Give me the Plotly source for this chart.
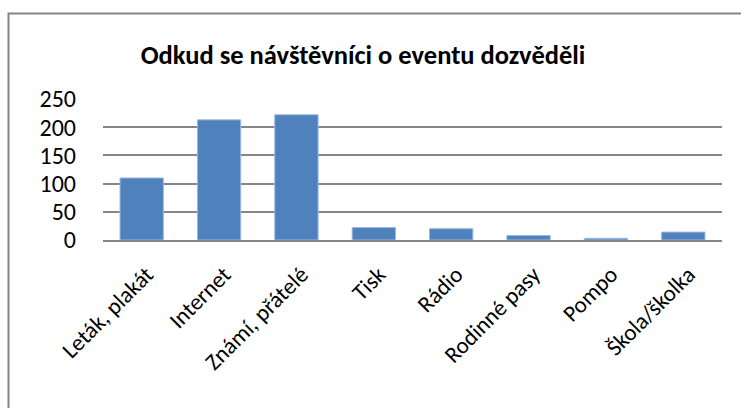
import plotly.graph_objects as go

categories = ["Leták, plakát", "Internet", "Známí, přátelé", "Tisk", "Rádio",
              "Rodinné pasy", "Pompo", "Škola/školka"]
values = [110, 213, 222, 22, 20, 8, 3, 14]
y_ticks = [0, 50, 100, 150, 200, 250]
title_text = "Odkud se návštěvníci o eventu dozvěděli"

FONT = "Carlito, 'Liberation Sans Narrow', 'Noto Sans', sans-serif"

W, H = 741, 408
L, R, T, B = 103, 19, 99, 168
pw, ph = W - L - R, H - T - B

def px_x(x):
    return (x - L) / pw

def px_y(y):
    return 1 - (y - T) / ph

fig = go.Figure(go.Bar(
    x=categories, y=values,
    marker=dict(color="#4F81BD", line=dict(color="#9DB9E0", width=1)),
    width=0.56,
))

fig.update_layout(
    width=W, height=H,
    margin=dict(l=L, r=R, t=T, b=B),
    paper_bgcolor="white", plot_bgcolor="white",
    showlegend=False,
    font=dict(family=FONT, color="black"),
    title=dict(text="<b>" + title_text + "</b>", x=363 / W, xanchor="center",
               y=1 - 55 / H, yanchor="middle", font=dict(size=26.5, family=FONT)),
    shapes=[dict(type="rect", xref="paper", yref="paper",
                 x0=px_x(8.5), x1=px_x(W + 10), y0=px_y(H + 10), y1=px_y(13.5),
                 line=dict(color="#868686", width=2), layer="below")],
)
fig.update_yaxes(range=[0, 250], tickvals=y_ticks, showgrid=True,
                 gridcolor="#868686", gridwidth=1.5, zeroline=False,
                 showline=False, ticks="", ticklabelstandoff=26,
                 tickfont=dict(size=24, family=FONT))
fig.update_xaxes(showline=True, linecolor="#868686", linewidth=2, ticks="",
                 tickangle=-45, ticklabelstandoff=10, ticklabelshift=5,
                 tickfont=dict(size=23, family=FONT))

fig.write_html("out.html", config={"displayModeBar": False},
               post_script="document.body.style.margin='0';")
